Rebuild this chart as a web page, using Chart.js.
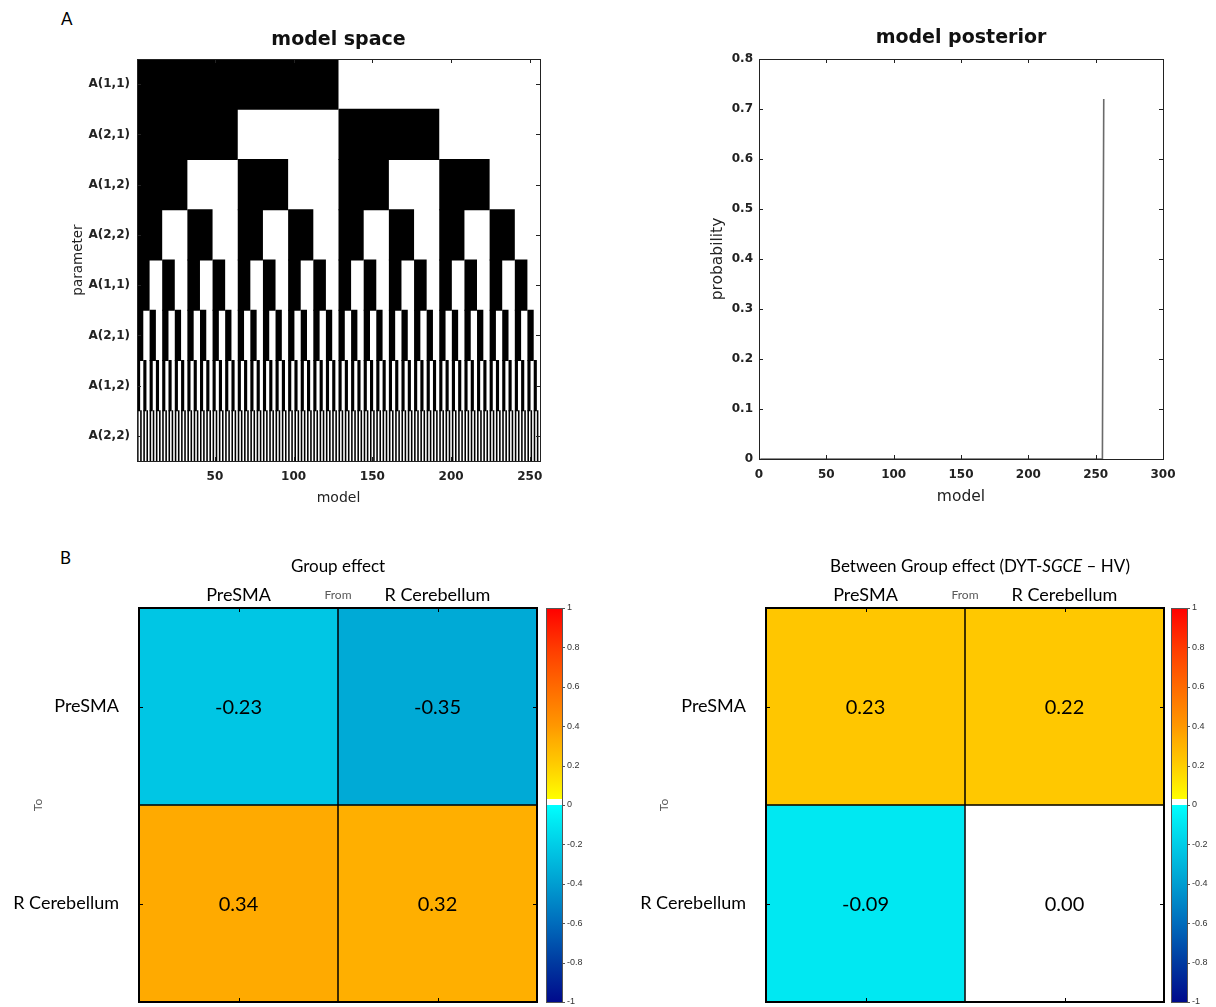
<!DOCTYPE html>
<html><head><meta charset="utf-8">
<script src="https://cdn.jsdelivr.net/npm/chart.js@4.4.1/dist/chart.umd.min.js"></script>
<style>
body{margin:0;background:#fff}
#wrap{position:relative;width:1216px;height:1007px;overflow:hidden;background:#fff}
canvas{position:absolute}
.plabel{position:absolute;font-family:Lato,"Open Sans",sans-serif;font-size:17px;color:#000;line-height:1}
</style></head><body>
<div id="wrap">
<div class="plabel" style="left:61px;top:10px">A</div>
<div class="plabel" style="left:60px;top:549px">B</div>
<canvas id="cSpace" width="560" height="520" style="left:0;top:0"></canvas>
<canvas id="cPost" width="616" height="520" style="left:600px;top:0"></canvas>
<canvas id="cGroup" width="600" height="467" style="left:0;top:540px"></canvas>
<canvas id="cBetween" width="616" height="467" style="left:600px;top:540px"></canvas>
</div>
<script>
// ---------------- DATA ----------------
// Model space: one row per parameter, 256 models, hex-coded bits (1 = black / parameter on)
const paramLabels = ['A(1,1)','A(2,1)','A(1,2)','A(2,2)','A(1,1)','A(2,1)','A(1,2)','A(2,2)'];
const modelSpaceRows = [
  'FFFFFFFFFFFFFFFFFFFFFFFFFFFFFFFF00000000000000000000000000000000',
  'FFFFFFFFFFFFFFFF0000000000000000FFFFFFFFFFFFFFFF0000000000000000',
  'FFFFFFFF00000000FFFFFFFF00000000FFFFFFFF00000000FFFFFFFF00000000',
  'FFFF0000FFFF0000FFFF0000FFFF0000FFFF0000FFFF0000FFFF0000FFFF0000',
  'FF00FF00FF00FF00FF00FF00FF00FF00FF00FF00FF00FF00FF00FF00FF00FF00',
  'F0F0F0F0F0F0F0F0F0F0F0F0F0F0F0F0F0F0F0F0F0F0F0F0F0F0F0F0F0F0F0F0',
  'CCCCCCCCCCCCCCCCCCCCCCCCCCCCCCCCCCCCCCCCCCCCCCCCCCCCCCCCCCCCCCCC',
  'AAAAAAAAAAAAAAAAAAAAAAAAAAAAAAAAAAAAAAAAAAAAAAAAAAAAAAAAAAAAAAAA'
];
const modelSpaceXTicks = [50, 100, 150, 200, 250];

// Model posterior
const posteriorModel = [1, 255, 256];
const posteriorProb  = [0, 0, 0.72];
const posteriorXTicks = [0, 50, 100, 150, 200, 250, 300];
const posteriorYTicks = [0, 0.1, 0.2, 0.3, 0.4, 0.5, 0.6, 0.7, 0.8];

// Connectivity matrices (rows = To, columns = From)
const regions = ['PreSMA', 'R Cerebellum'];
const groupEffect   = [[-0.23, -0.35], [0.34, 0.32]];
const betweenEffect = [[0.23, 0.22], [-0.09, 0.00]];
const colorbarTicks = [-1, -0.8, -0.6, -0.4, -0.2, 0, 0.2, 0.4, 0.6, 0.8, 1];

// ---------------- STYLE HELPERS ----------------
const CMAP_POS = [[0.03,[255,255,0]],[0.22,[255,200,0]],[0.34,[255,170,0]],[0.4,[255,152,0]],[0.6,[255,106,0]],[0.8,[255,58,0]],[1,[255,0,0]]];
const CMAP_NEG = [[-1,[0,10,140]],[-0.8,[0,58,160]],[-0.6,[0,108,188]],[-0.35,[0,170,214]],[-0.23,[0,198,228]],[-0.09,[0,232,242]],[0,[0,255,255]]];
const WHITE_BAND = [0, 0.03];
function lerpStops(stops, v){
  if (v <= stops[0][0]) return stops[0][1];
  for (let i = 1; i < stops.length; i++){
    if (v <= stops[i][0]){
      const [a, ca] = stops[i-1], [b, cb] = stops[i];
      const t = (v - a) / (b - a);
      return ca.map((c, k) => Math.round(c + (cb[k] - c) * t));
    }
  }
  return stops[stops.length-1][1];
}
function cmap(v){
  if (v >= WHITE_BAND[0] && v < WHITE_BAND[1]) return 'rgb(255,255,255)';
  const c = v < 0 ? lerpStops(CMAP_NEG, v) : lerpStops(CMAP_POS, v);
  return `rgb(${c[0]},${c[1]},${c[2]})`;
}
const rgb = c => `rgb(${c[0]},${c[1]},${c[2]})`;

function hexRowToRuns(hex){
  const bits = [];
  for (const ch of hex){ const n = parseInt(ch, 16); for (let b = 3; b >= 0; b--) bits.push((n >> b) & 1); }
  const runs = []; let start = null;
  bits.forEach((bit, i) => {
    const m = i + 1;
    if (bit && start === null) start = m;
    if (!bit && start !== null){ runs.push([start, m - 1]); start = null; }
  });
  if (start !== null) runs.push([start, bits.length]);
  return runs;
}

const richTitles = {
  cGroup:   {y: 27, dx: 0,  segments: [{text: 'Group effect'}]},
  cBetween: {y: 27, dx: 15, segments: [{text: 'Between Group effect (DYT-'}, {text: 'SGCE', italic: true}, {text: ' \u2013 HV)'}]}
};

const FA = "'DejaVu Sans', Verdana, sans-serif";
const FB = "Lato, 'Open Sans', sans-serif";

// ---------------- PLUGINS ----------------
const framePlugin = {
  id: 'frame',
  afterDatasetsDraw(chart, args, o){
    if (!o || !o.on) return;
    const {ctx, chartArea: a} = chart;
    const xs = chart.scales.x, ys = chart.scales.y;
    ctx.save();
    ctx.strokeStyle = o.color;
    ctx.lineWidth = 1;
    ctx.beginPath();
    const L = o.tick;
    xs.ticks.forEach(t => {
      const p = Math.round(xs.getPixelForValue(t.value)) + 0.5;
      ctx.moveTo(p, a.top); ctx.lineTo(p, a.top + L);
      ctx.moveTo(p, a.bottom); ctx.lineTo(p, a.bottom - L);
    });
    ys.ticks.forEach(t => {
      const p = Math.round(ys.getPixelForValue(t.value)) + 0.5;
      ctx.moveTo(a.left, p); ctx.lineTo(a.left + L, p);
      ctx.moveTo(a.right, p); ctx.lineTo(a.right - L, p);
    });
    ctx.stroke();
    if (o.cells){
      ctx.lineWidth = o.cellLine;
      ctx.beginPath();
      for (let i = 1; i < xs.ticks.length; i++){
        const p = (xs.getPixelForValue(xs.ticks[i-1].value) + xs.getPixelForValue(xs.ticks[i].value)) / 2;
        ctx.moveTo(p, a.top); ctx.lineTo(p, a.bottom);
      }
      for (let i = 1; i < ys.max; i++){
        const p = ys.getPixelForValue(i);
        ctx.moveTo(a.left, p); ctx.lineTo(a.right, p);
      }
      ctx.stroke();
    }
    ctx.lineWidth = o.boxWidth;
    const off = o.boxWidth % 2 ? 0.5 : 0;
    ctx.strokeRect(Math.round(a.left) + off, Math.round(a.top) + off, Math.round(a.width), Math.round(a.height));
    ctx.restore();
  }
};

const cellTextPlugin = {
  id: 'cellText',
  afterDatasetsDraw(chart, args, o){
    if (!o || !o.on) return;
    const ctx = chart.ctx;
    ctx.save();
    ctx.font = `${o.size}px ${FB}`;
    ctx.fillStyle = '#000';
    ctx.textAlign = 'center';
    ctx.textBaseline = 'middle';
    chart.data.datasets.forEach((ds, r) => {
      chart.getDatasetMeta(r).data.forEach((el, c) => {
        ctx.fillText(ds.cellValues[c].toFixed(2), el.x, (el.y + el.base) / 2 + 1);
      });
    });
    ctx.restore();
  }
};

const colorbarPlugin = {
  id: 'colorbar',
  afterDraw(chart, args, o){
    if (!o || !o.on) return;
    const ctx = chart.ctx, a = chart.chartArea, cb = chart.scales.cb;
    const x0 = a.right + o.gap, w = o.width;
    const yTop = cb.getPixelForValue(1), yBot = cb.getPixelForValue(-1);
    const g = ctx.createLinearGradient(0, yTop, 0, yBot);
    const f = v => (1 - v) / 2;
    for (let i = CMAP_POS.length - 1; i >= 0; i--) g.addColorStop(f(CMAP_POS[i][0]), rgb(CMAP_POS[i][1]));
    g.addColorStop(f(WHITE_BAND[1]), '#fff');
    g.addColorStop(f(WHITE_BAND[0]), '#fff');
    for (let i = CMAP_NEG.length - 1; i >= 0; i--) g.addColorStop(f(CMAP_NEG[i][0]), rgb(CMAP_NEG[i][1]));
    ctx.save();
    ctx.fillStyle = g;
    ctx.fillRect(x0, yTop, w, yBot - yTop);
    ctx.strokeStyle = '#555';
    ctx.lineWidth = 1;
    ctx.strokeRect(Math.round(x0) + 0.5, Math.round(yTop) + 0.5, w, Math.round(yBot - yTop));
    ctx.beginPath();
    cb.ticks.forEach(t => {
      const p = Math.round(cb.getPixelForValue(t.value)) + 0.5;
      ctx.moveTo(x0 + w, p); ctx.lineTo(x0 + w + 3, p);
    });
    ctx.stroke();
    ctx.restore();
  }
};

const richTitlePlugin = {
  id: 'richTitle',
  afterDraw(chart){
    const t = richTitles[chart.canvas.id];
    if (!t) return;
    const ctx = chart.ctx, a = chart.chartArea;
    ctx.save();
    ctx.fillStyle = '#000';
    ctx.textBaseline = 'middle';
    ctx.textAlign = 'left';
    const fonts = t.segments.map(s => `${s.italic ? 'italic ' : ''}17px ${FB}`);
    let total = 0;
    t.segments.forEach((s, i) => { ctx.font = fonts[i]; total += ctx.measureText(s.text).width; });
    let x = (a.left + a.right) / 2 + t.dx - total / 2;
    t.segments.forEach((s, i) => { ctx.font = fonts[i]; ctx.fillText(s.text, x, t.y); x += ctx.measureText(s.text).width; });
    ctx.restore();
  }
};

Chart.register(framePlugin, cellTextPlugin, colorbarPlugin, richTitlePlugin);

const noScaleDeco = {grid: {display: false, drawTicks: false, tickLength: 0}, border: {display: false}};
function fixBox(prop, size){
  return s => { s[prop] = size; s.paddingTop = 0; s.paddingBottom = 0; s.paddingLeft = 0; s.paddingRight = 0; };
}

function draw(){
  // ---------- model space ----------
  const spaceRuns = modelSpaceRows.flatMap((hex, r) =>
    hexRowToRuns(hex).map(([s, e]) => ({x: [s - 0.5, e + 0.5], y: r})));
  new Chart(document.getElementById('cSpace'), {
    type: 'bar',
    data: {datasets: [{data: spaceRuns, backgroundColor: '#000', borderWidth: 0,
      barPercentage: 1.02, categoryPercentage: 1}]},
    options: {
      indexAxis: 'y', responsive: false, animation: false, devicePixelRatio: 1,
      layout: {padding: {top: 0, left: 0, right: 20, bottom: 0}},
      plugins: {
        legend: {display: false}, tooltip: {enabled: false},
        title: {display: true, text: 'model space', fullSize: false, color: '#111',
          font: {family: FA, size: 19, weight: 'bold'}, padding: {top: 28.6, bottom: 7.6}},
        frame: {on: true, color: '#222', tick: 4, boxWidth: 1}
      },
      scales: {
        x: {type: 'linear', min: 0.5, max: 256.5, offset: false, position: 'bottom', ...noScaleDeco,
          afterBuildTicks: s => { s.ticks = modelSpaceXTicks.map(v => ({value: v})); },
          ticks: {font: {family: FA, size: 12, weight: 'bold'}, color: '#222', padding: 9, maxRotation: 0, autoSkip: false},
          title: {display: true, text: 'model', color: '#222', font: {family: FA, size: 14}, padding: {top: 0, bottom: 13}},
          afterFit: fixBox('height', 59)},
        y: {type: 'linear', min: -0.5, max: 7.5, reverse: true, offset: false, ...noScaleDeco,
          afterBuildTicks: s => { s.ticks = paramLabels.map((_, i) => ({value: i})); },
          ticks: {callback: (v, i) => paramLabels[i], font: {family: FA, size: 12, weight: 'bold'}, color: '#222', padding: 7, autoSkip: false},
          title: {display: true, text: 'parameter', color: '#222', font: {family: FA, size: 13.5}, padding: {top: 70, bottom: 0}},
          afterFit: fixBox('width', 137)}
      }
    }
  });

  // ---------- model posterior ----------
  new Chart(document.getElementById('cPost'), {
    type: 'scatter',
    data: {datasets: [{data: posteriorModel.map((m, i) => ({x: m, y: posteriorProb[i]})),
      showLine: true, borderColor: '#6a6a6a', borderWidth: 1.6, pointRadius: 0, fill: false, tension: 0}]},
    options: {
      responsive: false, animation: false, devicePixelRatio: 1,
      layout: {padding: {top: 0, left: 0, right: 53, bottom: 0}},
      plugins: {
        legend: {display: false}, tooltip: {enabled: false},
        title: {display: true, text: 'model posterior', fullSize: false, color: '#111',
          font: {family: FA, size: 19, weight: 'bold'}, padding: {top: 26.6, bottom: 9.6}},
        frame: {on: true, color: '#222', tick: 4, boxWidth: 1}
      },
      scales: {
        x: {type: 'linear', min: 0, max: 300, ...noScaleDeco,
          afterBuildTicks: s => { s.ticks = posteriorXTicks.map(v => ({value: v})); },
          ticks: {callback: v => String(v), font: {family: FA, size: 12, weight: 'bold'}, color: '#222', padding: 9, maxRotation: 0, autoSkip: false},
          title: {display: true, text: 'model', color: '#222', font: {family: FA, size: 15.5}, padding: {top: 0, bottom: 13.7}},
          afterFit: fixBox('height', 61)},
        y: {type: 'linear', min: 0, max: 0.8, ...noScaleDeco,
          afterBuildTicks: s => { s.ticks = posteriorYTicks.map(v => ({value: v})); },
          ticks: {callback: v => String(Math.round(v * 10) / 10), font: {family: FA, size: 12, weight: 'bold'}, color: '#222', padding: 6, autoSkip: false},
          title: {display: true, text: 'probability', color: '#222', font: {family: FA, size: 15.5}, padding: {top: 108.7, bottom: 0}},
          afterFit: fixBox('width', 159)}
      }
    }
  });

  // ---------- matrices ----------
  function matrixChart(id, values, geo){
    new Chart(document.getElementById(id), {
      type: 'bar',
      data: {labels: regions, datasets: values.map((row, r) => ({
        label: regions[r], data: row.map(() => 1), cellValues: row,
        backgroundColor: row.map(cmap), borderWidth: 0, barPercentage: 1, categoryPercentage: 1}))},
      options: {
        responsive: false, animation: false, devicePixelRatio: 1,
        layout: {padding: {top: 37, left: 0, right: 0, bottom: 5}},
        plugins: {
          legend: {display: false}, tooltip: {enabled: false},
          frame: {on: true, color: '#000', tick: 4, boxWidth: 2, cells: true, cellLine: 1.5},
          cellText: {on: true, size: 20},
          colorbar: {on: true, gap: geo.gap, width: 16}
        },
        scales: {
          x: {type: 'category', position: 'top', stacked: true, offset: true, ...noScaleDeco,
            ticks: {font: {family: FB, size: 18}, color: '#000', padding: 2.2},
            title: {display: true, text: 'From', color: '#595959', font: {family: FB, size: 12}, padding: {top: 11.4, bottom: 0}},
            afterFit: fixBox('height', 31)},
          y: {type: 'linear', min: 0, max: 2, reverse: true, stacked: true, ...noScaleDeco,
            afterBuildTicks: s => { s.ticks = regions.map((_, i) => ({value: i + 0.5})); },
            ticks: {callback: (v, i) => regions[i], font: {family: FB, size: 18}, color: '#000', padding: 20, autoSkip: false},
            title: {display: true, text: 'To', color: '#595959', font: {family: FB, size: 12}, padding: {top: geo.toPad, bottom: 0}},
            afterFit: fixBox('width', geo.left)},
          cb: {type: 'linear', position: 'right', min: -1, max: 1, display: true, ...noScaleDeco,
            afterBuildTicks: s => { s.ticks = colorbarTicks.map(v => ({value: v})); },
            ticks: {callback: v => String(Math.round(v * 10) / 10), font: {family: "'Liberation Sans', Arial, sans-serif", size: 9}, color: '#333', padding: geo.labelPad, autoSkip: false},
            afterFit: fixBox('width', geo.right)}
        }
      }
    });
  }
  matrixChart('cGroup', groupEffect, {left: 139, right: 63, gap: 9, labelPad: 30, toPad: 31.4});
  matrixChart('cBetween', betweenEffect, {left: 166, right: 52, gap: 7, labelPad: 28, toPad: 57.4});
}

const fontLoads = ['bold 12px "DejaVu Sans"', '12px "DejaVu Sans"', '17px Lato', 'italic 17px Lato', '9px "Liberation Sans"']
  .map(f => document.fonts.load(f).catch(() => null));
Promise.all(fontLoads).then(draw, draw);
</script>
</body></html>
